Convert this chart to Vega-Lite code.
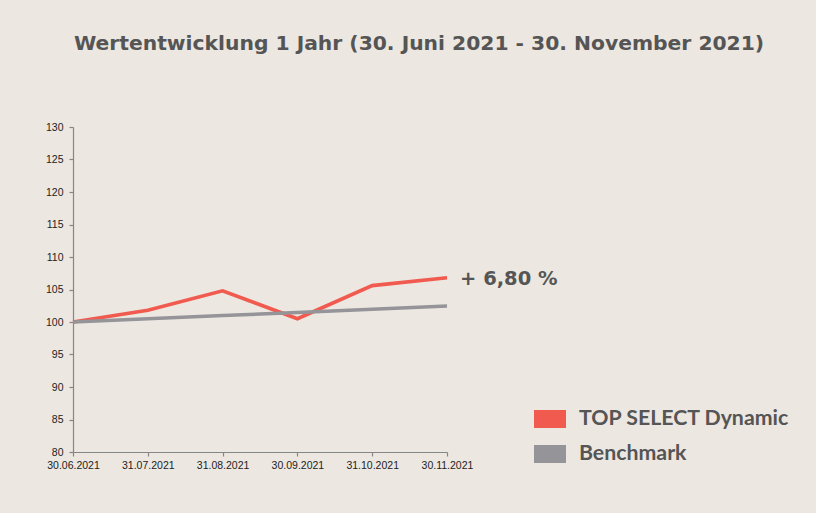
{
  "$schema": "https://vega.github.io/schema/vega-lite/v6.json",
  "autosize": "none",
  "width": 374,
  "height": 325,
  "padding": {"left": 73, "top": 127, "right": 369, "bottom": 61},
  "background": "#ECE7E0",
  "title": {
    "text": "Wertentwicklung 1 Jahr (30. Juni 2021 - 30. November 2021)",
    "anchor": "middle",
    "dx": 159,
    "offset": 52,
    "baseline": "alphabetic",
    "font": "DejaVu Sans",
    "fontSize": 20.3,
    "fontWeight": "bold",
    "color": "#555555"
  },
  "config": {
    "view": {"stroke": null},
    "axis": {
      "domainColor": "#868686",
      "tickColor": "#868686",
      "domainWidth": 1.2,
      "tickWidth": 1.2,
      "tickSize": 4,
      "grid": false,
      "labelFont": "Liberation Sans",
      "labelFontSize": 10.5,
      "labelColor": "#222222",
      "title": null
    }
  },
  "datasets": {
    "series": [
      {"date": "30.06.2021", "value": 100.0, "series": "TOP SELECT Dynamic"},
      {"date": "31.07.2021", "value": 101.8, "series": "TOP SELECT Dynamic"},
      {"date": "31.08.2021", "value": 104.8, "series": "TOP SELECT Dynamic"},
      {"date": "30.09.2021", "value": 100.5, "series": "TOP SELECT Dynamic"},
      {"date": "31.10.2021", "value": 105.6, "series": "TOP SELECT Dynamic"},
      {"date": "30.11.2021", "value": 106.8, "series": "TOP SELECT Dynamic"},
      {"date": "30.06.2021", "value": 100.0, "series": "Benchmark"},
      {"date": "31.07.2021", "value": 100.5, "series": "Benchmark"},
      {"date": "31.08.2021", "value": 101.0, "series": "Benchmark"},
      {"date": "30.09.2021", "value": 101.45, "series": "Benchmark"},
      {"date": "31.10.2021", "value": 101.95, "series": "Benchmark"},
      {"date": "30.11.2021", "value": 102.45, "series": "Benchmark"}
    ],
    "label": [
      {"date": "30.11.2021", "value": 106.8, "text": "+ 6,80 %"}
    ]
  },
  "encoding": {
    "x": {
      "field": "date",
      "type": "ordinal",
      "sort": null,
      "scale": {"type": "point", "padding": 0},
      "axis": {"labelAngle": 0, "labelPadding": 4}
    },
    "y": {
      "field": "value",
      "type": "quantitative",
      "scale": {"domain": [80, 130], "nice": false, "zero": false},
      "axis": {"values": [80, 85, 90, 95, 100, 105, 110, 115, 120, 125, 130], "labelPadding": 6}
    }
  },
  "layer": [
    {
      "data": {"name": "series"},
      "transform": [{"filter": "datum.series === 'TOP SELECT Dynamic'"}],
      "mark": {"type": "line", "strokeWidth": 3.6},
      "encoding": {
        "color": {
          "field": "series",
          "type": "nominal",
          "scale": {"domain": ["TOP SELECT Dynamic", "Benchmark"], "range": ["#F15A4F", "#949499"]},
          "legend": {
            "orient": "none",
            "legendX": 461,
            "legendY": 276,
            "title": null,
            "symbolType": "M-1,-0.5625H1V0.5625H-1Z",
            "symbolSize": 1024,
            "labelFont": "Lato",
            "labelFontSize": 21.3,
            "labelFontWeight": "bold",
            "labelColor": "#555555",
            "labelOffset": 13,
            "labelLimit": 400,
            "rowPadding": 8,
            "padding": 0,
            "encode": {
              "symbols": {
                "update": {
                  "fill": {"scale": "color", "field": "value"},
                  "strokeWidth": {"value": 0},
                  "fillOpacity": {"value": 1}
                }
              }
            }
          }
        }
      }
    },
    {
      "data": {"name": "series"},
      "transform": [{"filter": "datum.series === 'Benchmark'"}],
      "mark": {"type": "line", "strokeWidth": 3.6},
      "encoding": {
        "color": {"field": "series", "type": "nominal"}
      }
    },
    {
      "data": {"name": "label"},
      "mark": {
        "type": "text",
        "align": "left",
        "baseline": "middle",
        "dx": 13,
        "dy": 1,
        "font": "DejaVu Sans",
        "fontSize": 19.5,
        "fontWeight": "bold",
        "color": "#555555"
      },
      "encoding": {"text": {"field": "text"}}
    }
  ]
}
